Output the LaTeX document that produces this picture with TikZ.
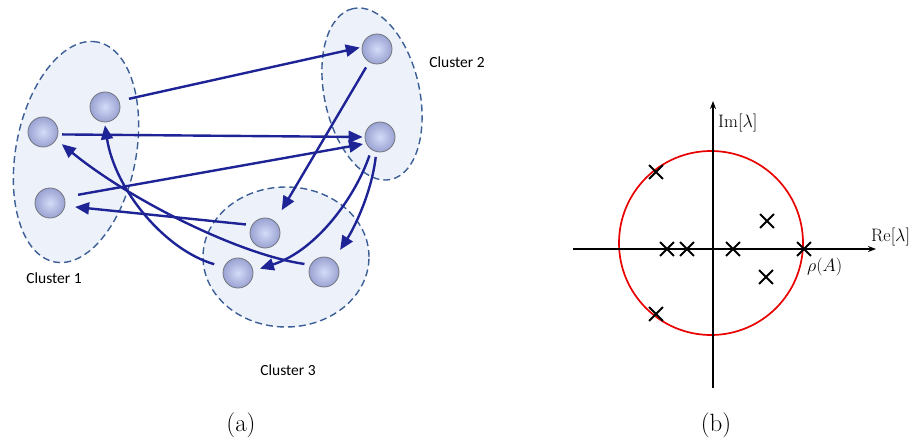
\RequirePackage{fix-cm}
\documentclass[tikz,border=0pt]{standalone}
\usepackage{fontspec}
\newfontfamily\clfont{Carlito}
\usetikzlibrary{arrows.meta,shapes.geometric,shapes.misc}
\definecolor{clfill}{HTML}{EDF2FA}
\definecolor{cldash}{HTML}{3B5E96}
\definecolor{arrowblue}{HTML}{1E2396}
\definecolor{ballin}{HTML}{D4DCF8}
\definecolor{ballout}{HTML}{9AA2D2}
\definecolor{ballrim}{HTML}{74767E}
\definecolor{eigred}{HTML}{E80000}
\tikzset{
  clusterbox/.style={ellipse, draw=cldash, fill=clfill, line width=1.4pt,
    dash pattern=on 7pt off 4pt, inner sep=0pt},
  ballnode/.style={circle, minimum size=30pt, inner sep=0pt, draw=ballrim,
    line width=0.8pt, shading=radial, inner color=ballin, outer color=ballout},
  arr/.style={draw=arrowblue, line width=2.4pt, -{Triangle[length=14pt,width=12pt]}},
  cltext/.style={font=\clfont\fontsize{15.5}{18}\selectfont, text=black},
  axisline/.style={draw=black, line width=1.8pt, -{Stealth[length=8pt,width=6pt]}},
  eig/.style={cross out, draw=black, line width=1.8pt, minimum size=12pt, inner sep=0pt},
  mathlabel/.style={font=\fontsize{18}{21}\selectfont, inner sep=0pt, anchor=west},
  sublabel/.style={font=\fontsize{25}{29}\selectfont, inner sep=0pt}
}
\begin{document}
\begin{tikzpicture}[x=1pt,y=-1pt]
\useasboundingbox (0,0) rectangle (911,441);
% clusters
\node[clusterbox, rotate=79, minimum width=224pt, minimum height=120pt] (cl1) at (76,152) {};
\node[clusterbox, rotate=102.5, minimum width=175pt, minimum height=95pt] (cl2) at (372,94) {};
\node[clusterbox, minimum width=166pt, minimum height=140pt] (cl3) at (286,257) {};
\node[cltext] (t1) at (54,278) {Cluster 1};
\node[cltext] (t2) at (457,62) {Cluster 2};
\node[cltext] (t3) at (288,370) {Cluster 3};
% balls
\node[ballnode] (A) at (105,107) {};
\node[ballnode] (B) at (43,132) {};
\node[ballnode] (C) at (50,203) {};
\node[ballnode] (D) at (377,49) {};
\node[ballnode] (E) at (380,137) {};
\node[ballnode] (F) at (265,233) {};
\node[ballnode] (G) at (238,273) {};
\node[ballnode] (H) at (324,272) {};
% arrows
\draw[arr, shorten <=10pt, shorten >=2pt] (A.23) -- (D.173);
\draw[arr, shorten <=4pt, shorten >=2pt] (B.-9) -- (E.180);
\draw[arr, shorten <=14pt, shorten >=3pt] (C.22) -- (E.205);
\draw[arr, shorten <=6pt, shorten >=10pt] (F.149) -- (C.-11);
\draw[arr, shorten <=6pt, shorten >=13pt] (D.239) -- (F.49);
\draw[arr, shorten <=5pt, shorten >=12pt] (E.256) .. controls (372,190) and (356,225) .. (H.51);
\draw[arr, shorten <=6pt, shorten >=7pt] (E.236) .. controls (356,195) and (318,250) .. (G.8);
\draw[arr, shorten <=6pt, shorten >=7pt] (H.152) .. controls (240,255) and (130,200) .. (B.-30);
\draw[arr, shorten <=10pt, shorten >=3pt] (G.157) .. controls (165,250) and (115,190) .. (A.268);
% panel (b)
\node[circle, draw=eigred, line width=1.7pt, minimum size=184pt, inner sep=0pt] (disk) at (711,243) {};
\coordinate (xl) at (573,249);
\coordinate (xr) at (876,249);
\coordinate (yb) at (713,388);
\coordinate (yt) at (713,101);
\draw[axisline] (xl) -- (xr);
\draw[axisline] (yb) -- (yt);
\node[eig] (e1) at (656,172) {};
\node[eig] (e2) at (667,249) {};
\node[eig] (e3) at (687,249) {};
\node[eig] (e4) at (733,249) {};
\node[eig] (e5) at (804,249) {};
\node[eig] (e6) at (767,221) {};
\node[eig] (e7) at (766,277) {};
\node[eig] (e8) at (656,314) {};
\node[mathlabel] (im) at (718,123) {$\mathrm{Im}[\lambda]$};
\node[mathlabel] (re) at (871,237) {$\mathrm{Re}[\lambda]$};
\node[mathlabel] (rho) at (807,267) {$\rho(A)$};
\node[sublabel] (la) at (241,425) {(a)};
\node[sublabel] (lb) at (716,425) {(b)};
\end{tikzpicture}
\end{document}
